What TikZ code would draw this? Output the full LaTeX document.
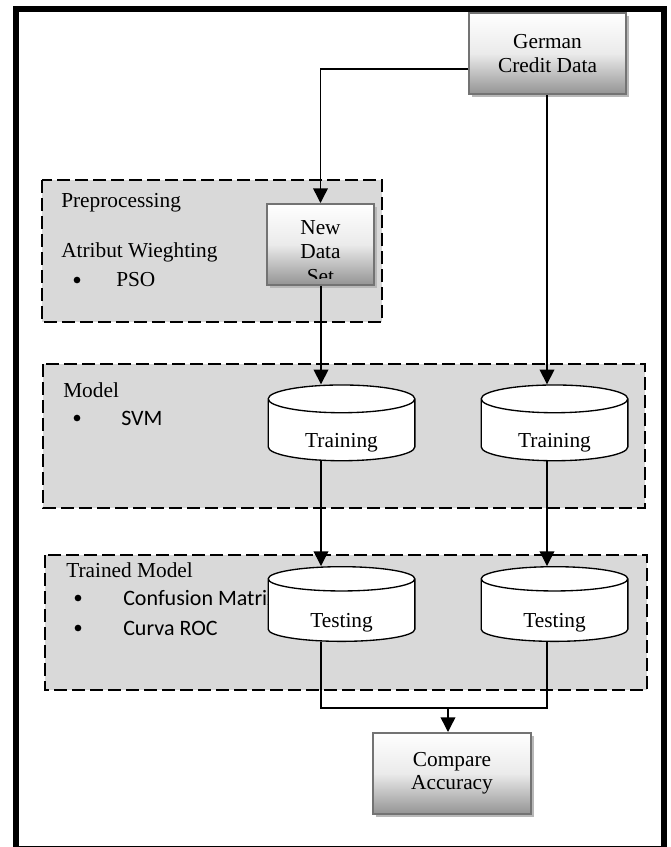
\documentclass[tikz,border=0pt]{standalone}
\usepackage{fontspec}
\setmainfont{Liberation Serif}
\newfontfamily\calfont{Carlito}
\usetikzlibrary{positioning,arrows.meta,shapes.geometric,shadows,calc}

\begin{document}
\begin{tikzpicture}[x=0.75pt, y=-0.75pt,
  databox/.style={rectangle, draw=black!55, line width=1.5pt,
                  top color=white, bottom color=black!42, middle color=black!8,
                  drop shadow={shadow xshift=2.5pt, shadow yshift=-2.5pt, fill=black!28, opacity=1},
                  font=\fontsize{16}{17.5}\selectfont, align=center},
  region/.style={draw=black, line width=1.5pt, dash pattern=on 9.5pt off 4pt, fill=black!15},
  store/.style={cylinder, shape border rotate=90, aspect=0.34, draw=black, line width=1pt,
                fill=white, minimum width=110pt, minimum height=56pt,
                text height=22pt, text depth=0pt,
                font=\fontsize{16}{18}\selectfont},
  lbl/.style={anchor=west, font=\fontsize{16}{18}\selectfont, inner sep=0pt},
  item/.style={anchor=west, font=\calfont\fontsize{16.5}{18}\selectfont, inner sep=0pt},
  dot/.style={circle, fill=black, inner sep=0pt, minimum size=5pt},
  ln/.style={line width=1.1pt},
  arr/.style={-{Triangle[length=11pt, width=11pt]}, line width=1.1pt},
]
\useasboundingbox (0,0) rectangle (671,847);
\draw[line width=4.5pt] (16,9) rectangle (664,849);

% stage areas
\draw[region] (42,180) rectangle (382,322);
\draw[region] (43,364) rectangle (645,508);
\draw[region] (45,555) rectangle (647,690);

\node[lbl] (pre) at (61,203) {Preprocessing};
\node[lbl] (aw) at (61,252) {Atribut Wieghting};
\node[dot] (b1) at (77,280) {};
\node[lbl] (pso) at (116,280) {PSO};

\node[lbl] (mdl) at (63,390) {Model};
\node[dot] (b2) at (77,418) {};
\node[item] (svm) at (121,418) {SVM};

\node[lbl] (tm) at (66,570) {Trained Model};
\node[dot] (b3) at (78,598) {};
\node[item] (cm) at (123,598) {Confusion Matrix};
\node[dot] (b4) at (78,628) {};
\node[item] (roc) at (123,628) {Curva ROC};

% data boxes
\node[databox, minimum width=117.75pt, minimum height=60.75pt] (gcd) at (547.5,53.5)
  {German\\Credit Data};
\node[databox, minimum width=80.25pt, minimum height=60.75pt] (nds) at (320.5,244.5) {};
\begin{scope}
  \clip ([shift={(2,-8)}]nds.south west) rectangle ([shift={(-2,2)}]nds.north east);
  \node[font=\fontsize{16}{18.5}\selectfont, align=center] (ndstxt) at (320.5,252) {New\\Data\\Set};
\end{scope}
\node[databox, minimum width=118.5pt, minimum height=60.75pt] (cmp) at (452,773.5)
  {Compare\\Accuracy};

% stores
\node[store] (tr1) at (341.5,432.5) {Training};
\node[store] (tr2) at (554.5,432.5) {Training};
\node[store] (te1) at (341.5,612.5) {Testing};
\node[store] (te2) at (554.5,612.5) {Testing};

\coordinate (c1) at (321,0);
\coordinate (c2) at (547,0);
\coordinate (j) at (448,708);

\draw[arr] ($(gcd.west)+(0,15.5)$) -| (nds.north);
\draw[arr] (c2 |- gcd.south) -- (c2 |- tr2.north);
\draw[arr] (c1 |- nds.south) -- (c1 |- tr1.north);
\draw[arr] (c1 |- tr1.south) -- (c1 |- te1.north);
\draw[arr] (c2 |- tr2.south) -- (c2 |- te2.north);
\draw[ln] (c1 |- te1.south) |- (j) -| (c2 |- te2.south);
\draw[arr] (j) -- (j |- cmp.north);

\end{tikzpicture}
\end{document}
